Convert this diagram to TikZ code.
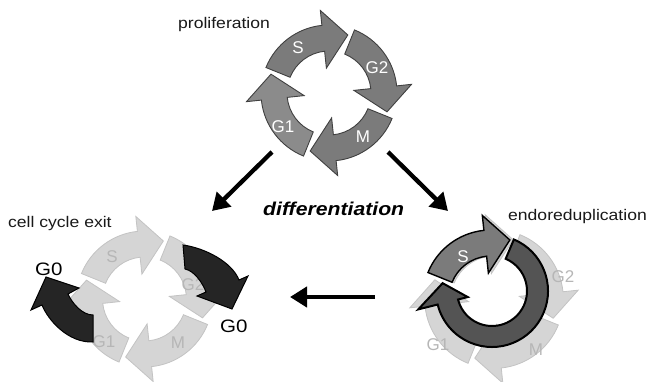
\documentclass[tikz,border=0pt]{standalone}
\usepackage{fontspec}
\setmainfont{Liberation Sans}
\usetikzlibrary{arrows.meta}
\definecolor{midg}{HTML}{7B7B7B}
\definecolor{midgl}{HTML}{8B8B8B}
\definecolor{lig}{HTML}{D5D5D5}
\definecolor{ligline}{HTML}{C3C3C3}
\definecolor{ligtext}{HTML}{B6B6B6}
\definecolor{ringg}{HTML}{545454}
\definecolor{darkg}{HTML}{252525}
\newcommand\wide[1]{\scalebox{1.14}[1]{#1}}
% #1 style, #2 tail angle, #3 head-base angle, #4 tip angle (screen angles, clockwise)
\newcommand\cycarrow[4]{%
  \path[#1] (#2:68) arc[start angle=#2, end angle=#3, radius=68] -- (#3:83) -- (#4:61)
    -- (#3:25) -- (#3:42) arc[start angle=#3, end angle=#2, radius=42] -- cycle;}
\begin{document}
\begin{tikzpicture}[x=1pt,y=-1pt,
  txt/.style={inner sep=0pt,font=\fontsize{15.4}{18}\selectfont,text=black!90},
  cyclab/.style={inner sep=0pt,font=\fontsize{17}{20}\selectfont},
  midarrow/.style={fill=midg,draw=black!75,line width=0.9},
  ligarrow/.style={fill=lig,draw=ligline,line width=0.8},
  g0arrow/.style={fill=darkg,draw=black,line width=1},
  bigarrow/.style={line width=4.3,-{Triangle[length=17pt,width=20pt]}}]
\useasboundingbox (0,0) rectangle (652,382);

% ---------- top: proliferation ----------
\begin{scope}[shift={(329,93)}]
  \cycarrow{midarrow}{-158}{-96}{-72}
  \cycarrow{midarrow}{-68}{-6}{18}
  \cycarrow{midarrow}{22}{84}{108}
  \cycarrow{midarrow,fill=midgl}{112}{174}{198}
\end{scope}
\node[cyclab,text=white] (tS) at (298,48) {S};
\node[cyclab,text=white] (tG2) at (377,68) {G2};
\node[cyclab,text=white] (tM) at (363,137) {M};
\node[cyclab,text=white] (tG1) at (283,127) {G1};
\node[txt,anchor=base west] (prolif) at (178,29) {\wide{proliferation}};

% ---------- differentiation arrows ----------
\coordinate (la) at (272,152);
\coordinate (lb) at (212,211);
\coordinate (ra) at (388,152);
\coordinate (rb) at (448,211);
\draw[bigarrow] (la) -- (lb);
\draw[bigarrow] (ra) -- (rb);
\node[inner sep=0pt,anchor=base west,font=\fontsize{18.6}{22}\selectfont\bfseries\itshape] (diff) at (263,215) {\wide{differentiation}};

% ---------- bottom left: cell cycle exit ----------
\begin{scope}[shift={(144.5,299)}]
  \cycarrow{ligarrow}{-158}{-96}{-72}
  \cycarrow{ligarrow}{-68}{-6}{18}
  \cycarrow{ligarrow}{22}{84}{108}
  \cycarrow{ligarrow}{112}{174}{198}
\end{scope}
\node[cyclab,text=ligtext] (lS) at (112,257) {S};
\node[cyclab,text=ligtext] (lG2) at (193,285) {G2};
\node[cyclab,text=ligtext] (lM) at (178,343) {M};
\node[cyclab,text=ligtext] (lG1) at (104,342) {G1};
\path[g0arrow] (183,245) .. controls (205,248) and (232,262) .. (239,280) -- (248,276)
  -- (232,309) -- (197,296) -- (206,292) .. controls (203,284) and (195,271) .. (185,269) -- cycle;
\path[g0arrow] (93,342) .. controls (68,343) and (48,320) .. (42,305) -- (31,310)
  -- (46,277) -- (79,288) -- (68,294) .. controls (72,303) and (82,315) .. (93,315) -- cycle;
\node[inner sep=0pt,anchor=base west,font=\fontsize{18}{21}\selectfont] (g0l) at (35,275) {\wide{G0}};
\node[inner sep=0pt,anchor=base west,font=\fontsize{18}{21}\selectfont] (g0r) at (220,332) {\wide{G0}};
\node[txt,anchor=base west] (exit) at (8,227) {\wide{cell cycle exit}};

% ---------- horizontal arrow ----------
\coordinate (ha) at (375,297);
\coordinate (hb) at (290,297);
\draw[bigarrow] (ha) -- (hb);

% ---------- bottom right: endoreduplication ----------
\begin{scope}[shift={(494,299)},scale=1.02]
  \cycarrow{ligarrow}{-158}{-96}{-72}
  \cycarrow{ligarrow}{-68}{-6}{18}
  \cycarrow{ligarrow}{22}{84}{108}
  \cycarrow{ligarrow}{112}{174}{198}
\end{scope}
\node[cyclab,text=ligtext] (rG2) at (563,277) {G2};
\node[cyclab,text=ligtext] (rM) at (536,350) {M};
\node[cyclab,text=ligtext] (rG1) at (438,345) {G1};
\begin{scope}[shift={(492,291)}]
  \path[fill=ringg,draw=black,line width=2] (-67:56) arc[start angle=-67, end angle=166, radius=56]
    -- (166:76) -- (189:50) -- (166:25) -- (166:35) arc[start angle=166, end angle=-67, radius=35] -- cycle;
\end{scope}
\begin{scope}[shift={(491,298)}]
  \cycarrow{fill=midg,draw=black,line width=1.4}{-158}{-96}{-72}
\end{scope}
\node[cyclab,text=white] (rS) at (463,257) {S};
\node[txt,anchor=base west] (endo) at (508,220) {\wide{endoreduplication}};
\end{tikzpicture}
\end{document}
